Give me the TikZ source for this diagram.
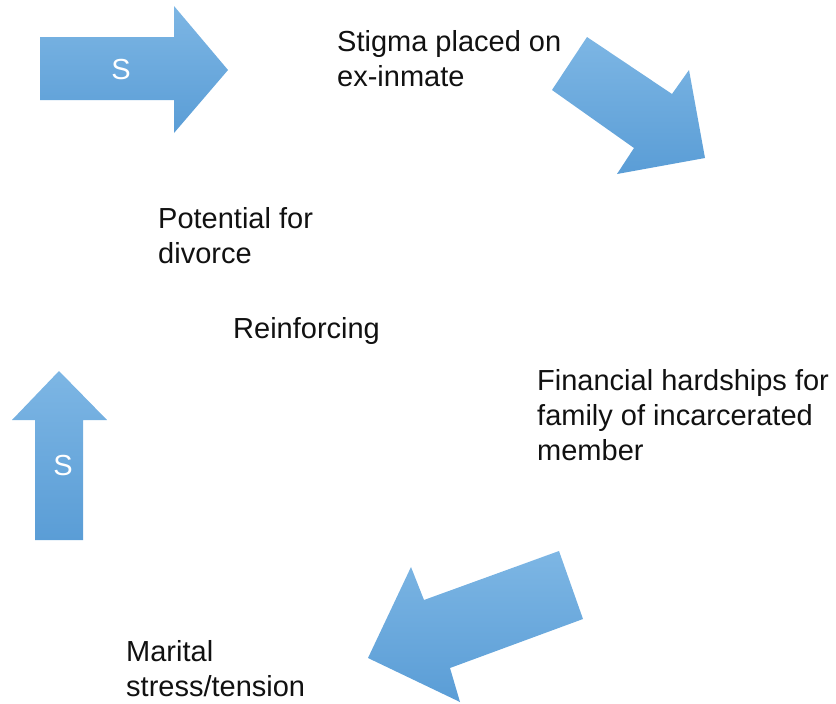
\documentclass[tikz,border=0pt]{standalone}
\usepackage{fontspec}
\setmainfont{Liberation Sans}
\usetikzlibrary{positioning}
\definecolor{arrowtop}{HTML}{7DB6E4}
\definecolor{arrowbot}{HTML}{5A9DD6}
\definecolor{inkblack}{HTML}{111111}
\tikzset{
  blockarrow/.style = {top color=arrowtop, bottom color=arrowbot, draw=none},
  lbl/.style        = {anchor=base west, align=left, inner sep=0pt, text=inkblack,
                       font=\fontsize{29}{35}\selectfont},
  slabel/.style     = {inner sep=0pt, text=white, font=\fontsize{29}{34}\selectfont},
}
\begin{document}
\begin{tikzpicture}[x=1pt,y=-1pt]
  \useasboundingbox (0,0) rectangle (836,704);
  % block arrows
  \path[blockarrow] (40,37) -- (174,37) -- (174,6) -- (228,70) -- (174,133)
    -- (174,100) -- (40,100) -- cycle;
  \path[blockarrow] (587,37) -- (672,94) -- (689,70) -- (705,158) -- (617,174)
    -- (634,148) -- (552,90) -- cycle;
  \path[blockarrow] (559,551) -- (583,619) -- (450,668) -- (460,702) -- (368,658)
    -- (411,567) -- (424,600) -- cycle;
  \path[blockarrow] (35,540) -- (35,420) -- (12,420) -- (59,371) -- (107,420)
    -- (83,420) -- (83,540) -- cycle;
  \node[slabel] (s1) at (121,70) {S};
  \node[slabel] (s2) at (63,466) {S};
  % labels (anchored at the baseline of the last line)
  \node[lbl] (stigma) at (337,86) {Stigma placed on\\ex-inmate};
  \node[lbl] (divorce) at (158,263) {Potential for\\divorce};
  \node[lbl] (reinf) at (233,338) {Reinforcing};
  \node[lbl] (finance) at (537,460) {Financial hardships for\\family of incarcerated\\member};
  \node[lbl] (marital) at (126,696) {Marital\\stress/tension};
\end{tikzpicture}
\end{document}
